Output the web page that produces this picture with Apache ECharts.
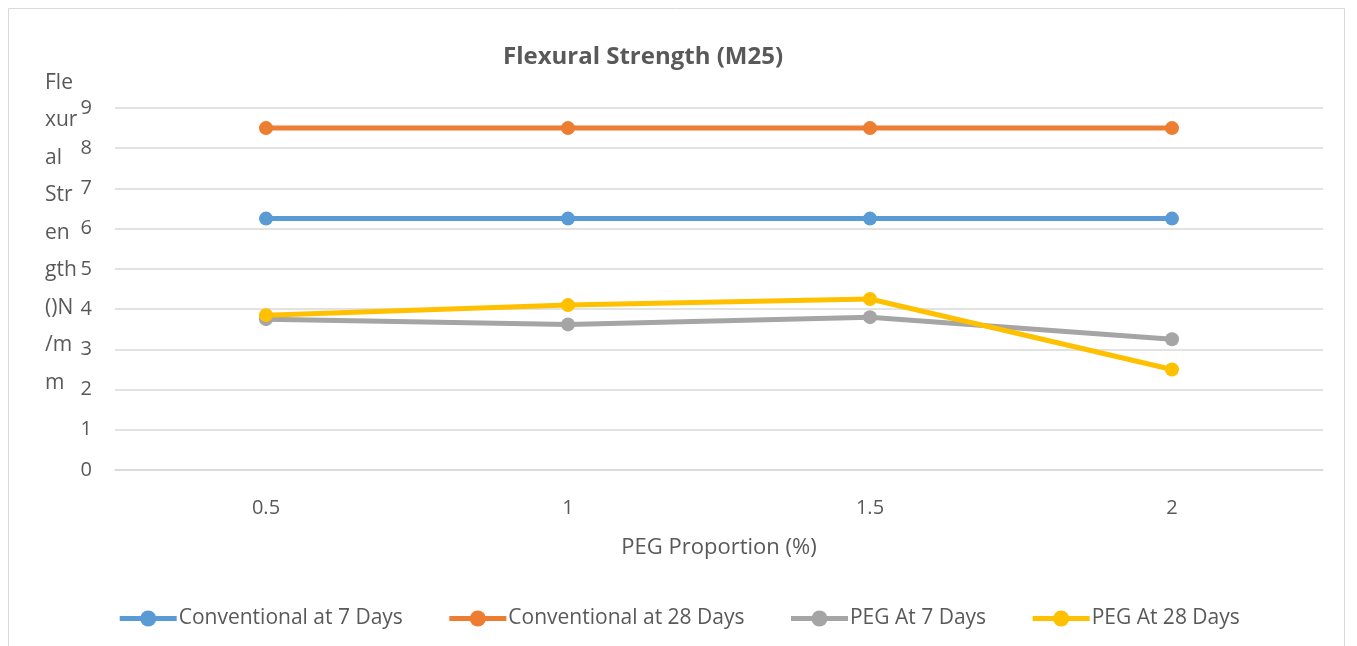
<!DOCTYPE html>
<html>
<head>
<meta charset="utf-8">
<script src="https://cdn.jsdelivr.net/npm/echarts@6/dist/echarts.min.js"></script>
<style>
  html, body { margin: 0; padding: 0; background: #fff; }
  #chart { width: 1357px; height: 646px; }
</style>
</head>
<body>
<div id="chart"></div>
<script>
// data
var categories = ['0.5', '1', '1.5', '2'];
var conv7 = [6.25, 6.25, 6.25, 6.25];
var conv28 = [8.5, 8.5, 8.5, 8.5];
var peg7 = [3.75, 3.62, 3.8, 3.25];
var peg28 = [3.85, 4.1, 4.25, 2.5];
var seriesNames = ['Conventional at 7 Days', 'Conventional at 28 Days', 'PEG At 7 Days', 'PEG At 28 Days'];
var colors = ['#5B9BD5', '#ED7D31', '#A5A5A5', '#FFC000'];

var font = 'Open Sans';

function lineSeries(name, data, color) {
  return {
    name: name,
    type: 'line',
    data: data,
    symbol: 'circle',
    symbolSize: 14,
    lineStyle: { width: 5, color: color },
    itemStyle: { color: color },
    emphasis: { disabled: true }
  };
}

var chart = echarts.init(document.getElementById('chart'));
var option = {
  animation: false,
  color: colors,
  title: {
    text: 'Flexural Strength (M25)',
    left: 638,
    textAlign: 'center',
    top: 40,
    textStyle: { fontFamily: font, fontSize: 24, fontWeight: 'bold', color: '#595959' }
  },
  graphic: [
    {
      type: 'rect',
      shape: { x: 8.5, y: 8.5, width: 1336, height: 700 },
      style: { fill: 'none', stroke: '#d9d9d9', lineWidth: 1 },
      silent: true
    },
    {
      // y axis title, wrapped into short pieces like the source
      type: 'text',
      left: 45,
      top: 64,
      style: {
        text: 'Fle\nxur\nal\nStr\nen\ngth\n()N\n/m\nm',
        font: '21px "Open Sans"',
        fill: '#595959',
        lineHeight: 37.5
      }
    }
  ],
  legend: {
    bottom: 12,
    left: 'center',
    itemWidth: 57,
    itemHeight: 20,
    itemGap: 44,
    lineStyle: { width: 5 },
    textStyle: { fontFamily: font, fontSize: 21, color: '#595959', padding: [0, 0, 0, -3] },
    data: seriesNames
  },
  grid: { left: 115, right: 34, top: 108, bottom: 176, containLabel: false },
  xAxis: {
    type: 'category',
    data: categories,
    boundaryGap: true,
    name: 'PEG Proportion (%)',
    nameLocation: 'middle',
    nameGap: 67,
    nameTextStyle: { fontFamily: font, fontSize: 22, color: '#595959' },
    axisLine: { show: true, lineStyle: { color: '#d9d9d9', width: 1.5 } },
    axisTick: { show: false },
    axisLabel: { fontFamily: font, fontSize: 20, color: '#595959', margin: 28 }
  },
  yAxis: {
    type: 'value',
    min: 0,
    max: 9,
    interval: 1,
    axisLine: { show: false },
    axisTick: { show: false },
    axisLabel: { fontFamily: font, fontSize: 20, color: '#595959', margin: 23 },
    splitLine: { lineStyle: { color: '#d9d9d9', width: 1.5 } }
  },
  series: [
    lineSeries(seriesNames[0], conv7, colors[0]),
    lineSeries(seriesNames[1], conv28, colors[1]),
    lineSeries(seriesNames[2], peg7, colors[2]),
    lineSeries(seriesNames[3], peg28, colors[3])
  ]
};
chart.setOption(option);
</script>
</body>
</html>
